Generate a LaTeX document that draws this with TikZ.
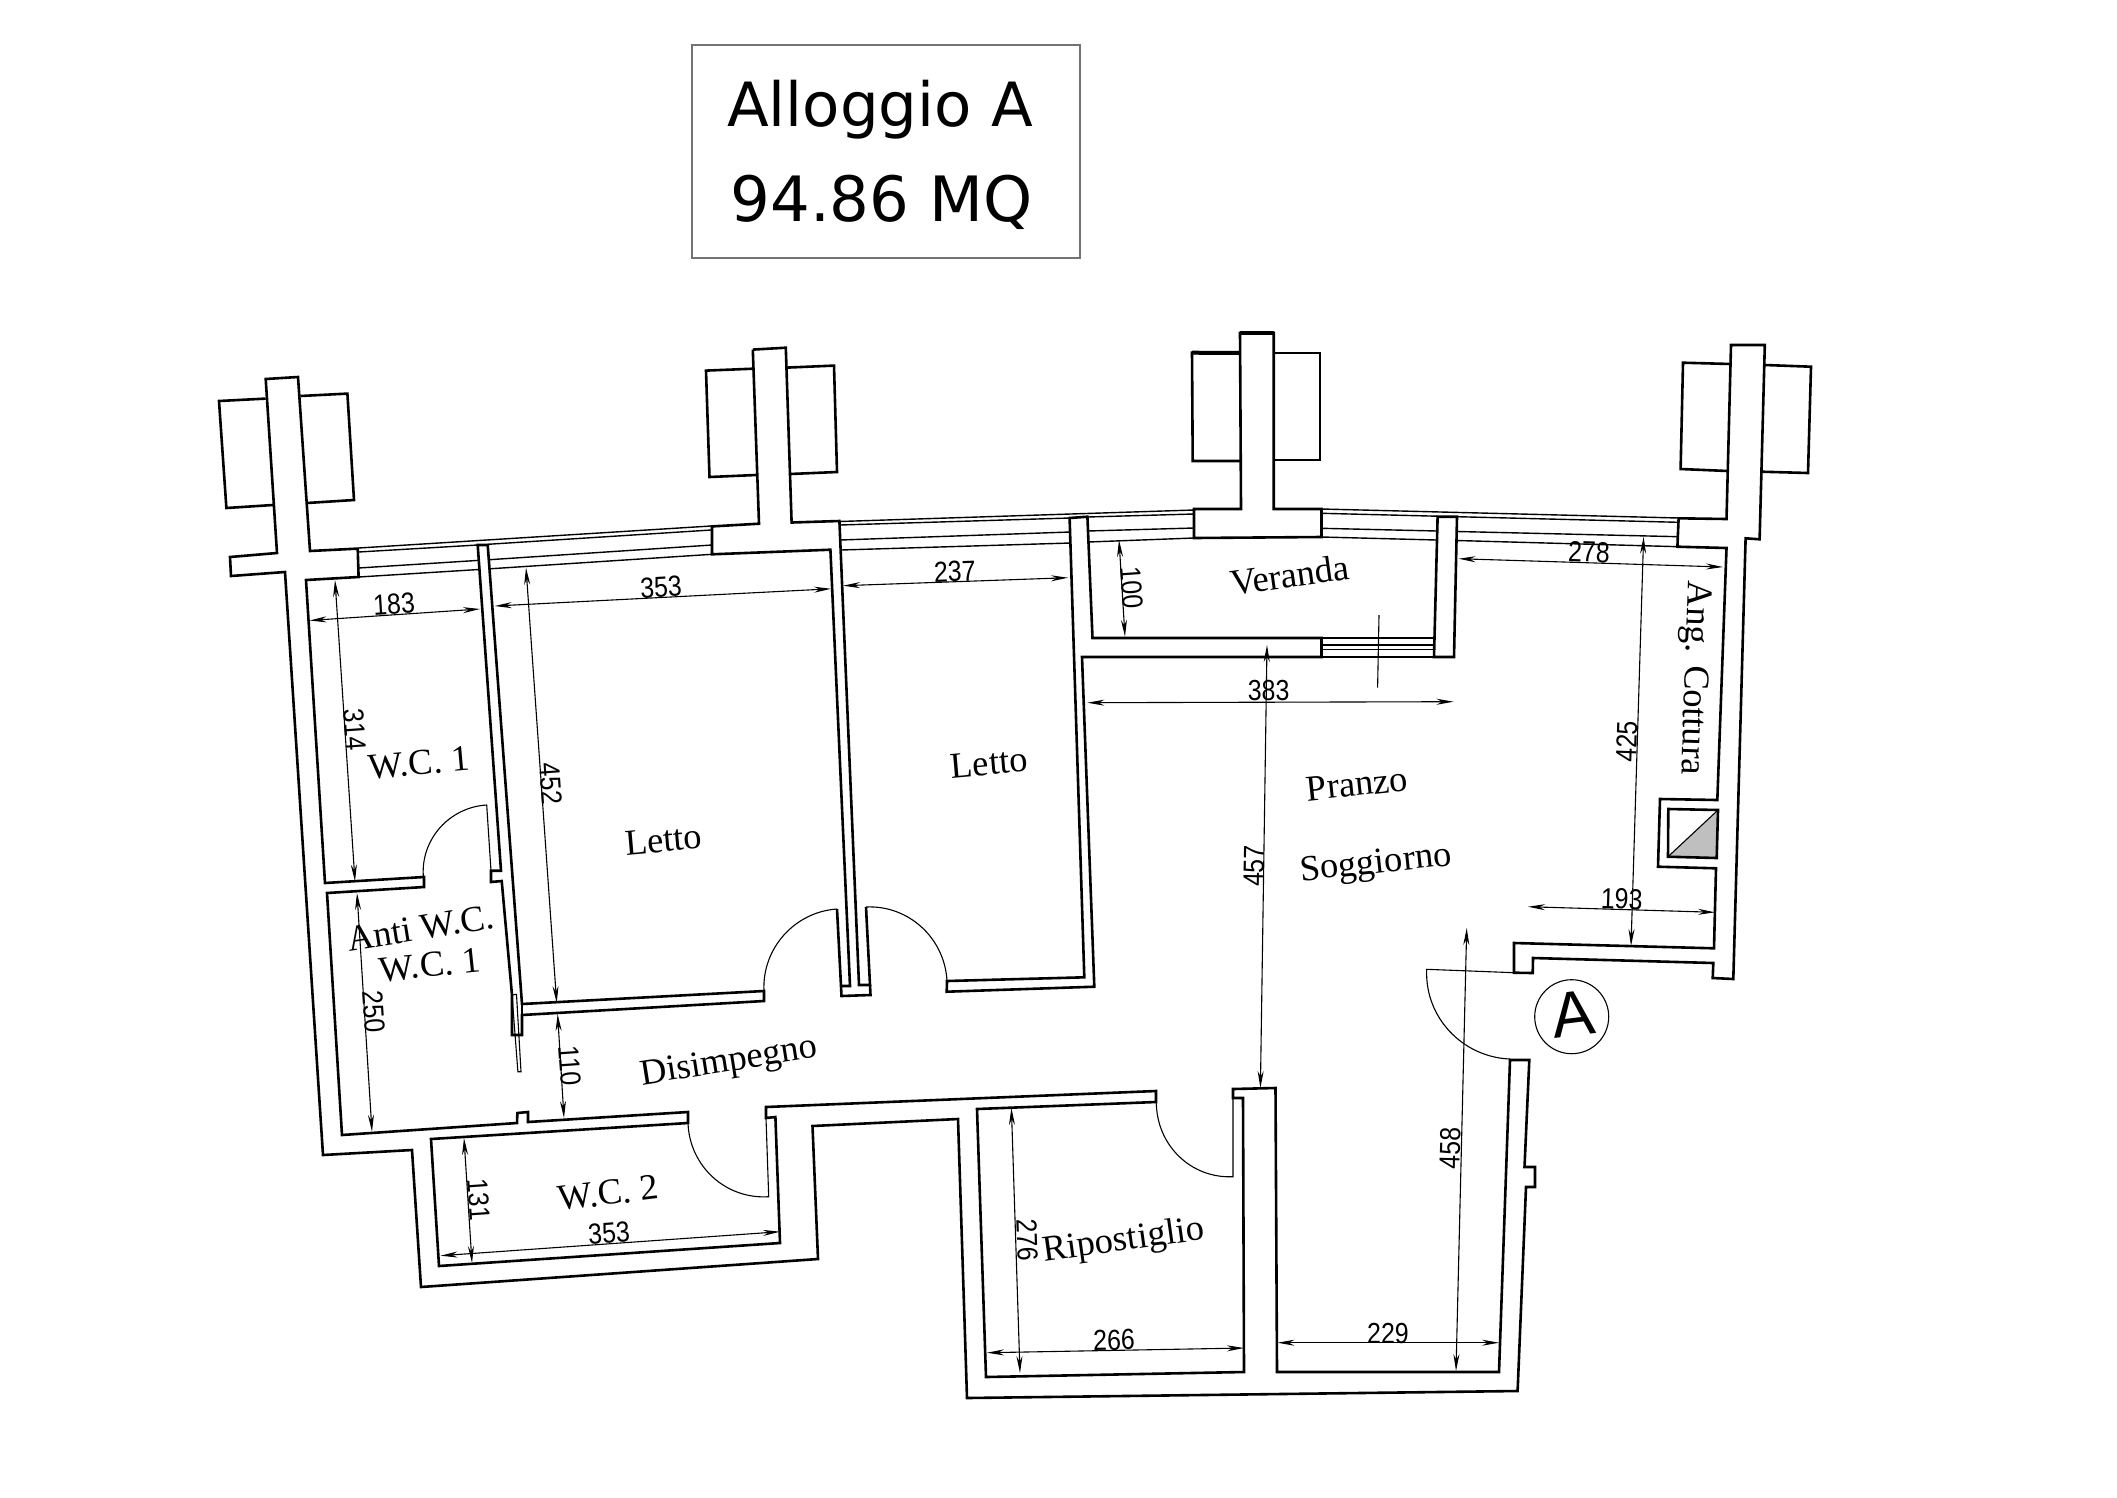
\documentclass[tikz,border=0pt]{standalone}
\usepackage{fontspec}
\setmainfont{Liberation Serif}
\newfontfamily\dimf[FakeStretch=0.86]{Liberation Sans}
\newfontfamily\bigf{Liberation Sans}
\newfontfamily\titlef{DejaVu Sans}
\usetikzlibrary{arrows.meta}
\tikzset{
  wall/.style={line width=2.6pt,line join=miter,line cap=butt},
  thinl/.style={line width=1.4pt},
  hair/.style={line width=1.1pt},
  dimline/.style={line width=1.1pt,{Stealth[length=17pt,width=6pt]}-{Stealth[length=17pt,width=6pt]}},
  dimlab/.style={inner sep=0pt,font=\dimf\fontsize{29}{32}\selectfont},
  room/.style={inner sep=0pt,font=\fontsize{36.5}{40}\selectfont},
  titlelab/.style={inner sep=0pt,anchor=base,font=\titlef\fontsize{61}{70}\selectfont}
}
\begin{document}
\begin{tikzpicture}[x=1pt,y=-1pt]
\useasboundingbox (0,0) rectangle (2117,1497);
\fill[white] (0,0) rectangle (2117,1497);
% title
\draw[line width=1.2pt,draw=black!55] (692,45) rectangle (1080,258);
\node[titlelab] (t1) at (880,126) {Alloggio A};
\node[titlelab,font=\titlef\fontsize{62.5}{70}\selectfont] (t2) at (881.5,221) {94.86 MQ};
% main outer wall
\draw[wall] (265.7,379)--(298,377)--(310,551)--(357.7,548.6)--(358.6,577)--(306,580)--(325,883)--(424,877)--(424,887)--(327,893)--(342,1135)--(517,1123)--(517.4,1113)--(528,1112)--(528,1122)--(688,1112)--(688,1123)--(431,1139)--(439,1266)--(780,1243)--(775.4,1117)--(766,1118)--(766,1107)--(1156,1091)--(1156,1102)--(977,1109)--(986,1377)--(1244,1372)--(1243,1098)--(1233,1098)--(1233,1089)--(1275.5,1088)--(1277,1372)--(1499,1372)--(1510,1060)--(1529.3,1060)--(1524.5,1167)--(1535,1167)--(1535,1187)--(1526,1187)--(1517.6,1391)--(967,1398)--(958,1119)--(812.5,1126)--(818,1259)--(421,1287)--(412,1150)--(323,1155)--(285,572)--(231,576)--(230,557)--(277,553)--cycle;
% left tower flanks
\draw[wall] (265.7,398.6)--(219,401)--(226.4,508)--(273,505);
\draw[wall] (300.5,396)--(347.4,393.6)--(354,500)--(307,503);
% partition WC1 / Letto
\draw[wall] (487.7,545)--(477.7,545)--(501,870.7)--(491,870.7)--(491,882)--(501.7,881)--(512,995)--(512,1035)--(522,1035)--(522,1015)--(764,1001)--(764,991)--(522,1004)--cycle;
\draw[wall] (522,1004)--(522,1015);
\draw[hair] (512,995)--(516.5,994.3)--(521,1071.7)--(517.9,1071.7)--cycle;
% second tower
\draw[wall] (752.8,349.6)--(785.8,347.7)--(791.6,522.5)--(839.4,521)--(859,985)--(870,985)--(866,907);
\draw[wall] (870,985)--(870.5,995)--(841.5,996)--(841,986)--(837,909);
\draw[wall] (841,986)--(850,986)--(830.4,549.7)--(712,554.3)--(712,526.4)--(759,523.7)--(752.8,349.6);
\draw[wall] (752.8,368.7)--(706,370.6)--(709.5,477)--(756,475);
\draw[wall] (787,367.6)--(834,365.6)--(837,472)--(790,474);
% Letto 2 and veranda
\draw[wall] (947,981)--(1084.3,977.3)--(1069.6,518)--(1087.4,516.7)--(1092.5,638)--(1321.5,638)--(1321.5,657)--(1082,657)--(1094.3,986.7)--(946.7,991.7)--cycle;
% centre tower
\draw[wall] (1240,333)--(1273.7,333)--(1273.7,509)--(1321.5,509)--(1321.5,537)--(1194,538)--(1194,509)--(1241,509)--cycle;
\draw[line width=4pt] (1240,333)--(1273.7,333);
\draw[wall] (1240,353)--(1192,352.7)--(1192.7,461)--(1240,461);
\draw[line width=4pt] (1240,353)--(1192,352.7);
\draw[wall] (1273.7,353)--(1320,353)--(1320,460)--(1273.7,460);
% veranda pillar
\draw[wall] (1437.6,516.7)--(1457,516.7)--(1454,657)--(1434,657)--cycle;
% right tower
\draw[wall] (1731,345)--(1764.8,345)--(1759.6,539.3)--(1745.6,538.3)--(1733.3,979)--(1712.7,978)--(1713.3,963)--(1533,958)--(1532.7,973)--(1514,972.7)--(1514,943)--(1714,948.3)--(1716,868.3)--(1658,866.7)--(1660,799)--(1717.3,800)--(1726.5,548)--(1677.4,546.7)--(1678.6,518.3)--(1726.5,519)--cycle;
\draw[wall] (1731,364)--(1683,362.7)--(1680.6,469)--(1727.8,471);
\draw[wall] (1764.8,365)--(1811,366.7)--(1808,473)--(1761.6,471.7);
% flue
\fill[black!25] (1718,810)--(1716.7,858)--(1668,856.7)--cycle;
\draw[wall] (1668.3,809)--(1718,810)--(1716.7,858)--(1668,856.7)--cycle;
\draw[hair] (1718,810)--(1668,856.7);
% windows, bay 1
\draw[thinl] (358.6,548)--(711,526);
\draw[thinl] (358.6,552)--(477.7,545) (487.7,544.3)--(711,530);
\draw[thinl] (358.6,568)--(479.6,560.3) (489.4,559.7)--(712,545);
\draw[thinl] (358.6,577)--(480.3,569.4) (489.7,568.8)--(712,554.3);
% windows, bay 2
\draw[thinl] (839.4,521.5)--(1194,510);
\draw[thinl] (840,525)--(1070,518) (1087.4,517)--(1194,514);
\draw[thinl] (840.5,540)--(1070,532) (1088,531)--(1194,528);
\draw[thinl] (841,550)--(1070.5,543) (1088.5,542)--(1194,538);
% windows, bay 3
\draw[thinl] (1321.5,509)--(1678.6,518);
\draw[thinl] (1321.5,513.3)--(1437.5,516.2) (1457,516.7)--(1678.6,522.3);
\draw[thinl] (1321.5,528.3)--(1437,531) (1457,531.5)--(1678.6,536.7);
\draw[thinl] (1321.5,537)--(1436.5,540) (1456.5,540.5)--(1678.6,546.7);
% lower veranda opening
\draw[thinl] (1321.5,638)--(1435,638) (1321.5,645)--(1435,645) (1321.5,649.3)--(1435,649.3) (1321.5,657)--(1434,657);
\draw[hair] (1379,615)--(1377.6,687.7);
% doors
\draw[hair] (491,871)--(486.7,805) .. controls (449.5,807.2) and (420.9,839.1) .. (423.3,876);
\draw[hair] (764,991) .. controls (761.8,948.6) and (794.6,911.8) .. (837,909);
\draw[hair] (947,981) .. controls (944.8,938.1) and (908.4,904.8) .. (866,907);
\draw[hair] (688,1123) .. controls (689.5,1166.3) and (725.8,1199.5) .. (768.7,1196.7)--(766,1118);
\draw[hair] (1156.3,1101.7) .. controls (1156.3,1145) and (1190.8,1178.7) .. (1233,1176.7)--(1233,1098);
\draw[hair] (1514,972.7)--(1426.7,969.3) .. controls (1424.5,1016.8) and (1462,1057.1) .. (1510,1059);
% entrance marker
\node[circle,draw,line width=1.1pt,minimum size=74pt,inner sep=0pt] (entrycircle) at (1571.7,1016.7) {};
\node[inner sep=0pt,rotate=7,font=\bigf\fontsize{64}{70}\selectfont] (entry) at (1573,1014) {A};
% dimensions
\draw[dimline] (309.5,620.5)--(480,609);
\node[dimlab,rotate=3.5] (d183) at (394,604) {183};
\draw[dimline] (494.7,606)--(831,588.8);
\node[dimlab,rotate=3] (d353a) at (661,587) {353};
\draw[dimline] (335,580)--(355,881.5);
\node[dimlab,rotate=-86] (d314) at (355.4,729.6) {314};
\draw[dimline] (526,567.7)--(556.7,1003);
\node[dimlab,rotate=-86] (d452) at (551.4,784) {452};
\draw[dimline] (357,893)--(372,1131.7);
\node[dimlab,rotate=-86] (d250) at (373.7,1011.7) {250};
\draw[dimline] (557.6,1014)--(564,1118);
\node[dimlab,rotate=-86] (d110) at (570,1065.7) {110};
\draw[dimline] (464,1138)--(472,1263);
\node[dimlab,rotate=-86] (d131) at (478.6,1200) {131};
\draw[dimline] (440.6,1255.7)--(780,1231.7);
\node[dimlab,rotate=4] (d353b) at (609,1232.7) {353};
\draw[dimline] (843,585.7)--(1068,577.7);
\node[dimlab,rotate=2] (d237) at (954.8,571.7) {237};
\draw[dimline] (1119,540)--(1125,636.7);
\node[dimlab,rotate=-86] (d100) at (1132,587.7) {100};
\draw[dimline] (1458.6,558.7)--(1723,567);
\node[dimlab,rotate=-2] (d278) at (1589,552) {278};
\draw[dimline] (1643.6,536.7)--(1631,946);
\node[dimlab,rotate=88] (d425) at (1626.7,741.7) {425};
\draw[dimline] (1087.4,702.7)--(1453.5,701.7);
\node[dimlab] (d383) at (1268.6,691) {383};
\draw[dimline] (1528,906.7)--(1715,912.3);
\node[dimlab,rotate=-2] (d193) at (1621.7,899) {193};
\draw[dimline] (1267,645)--(1260.4,1088);
\node[dimlab,rotate=89] (d457) at (1254,866) {457};
\draw[dimline] (1466.7,928)--(1456,1371);
\node[dimlab,rotate=88.5] (d458) at (1450,1148) {458};
\draw[dimline] (1011.4,1108)--(1020,1373);
\node[dimlab,rotate=-88] (d276) at (1027,1240) {276};
\draw[dimline] (987,1352.7)--(1244,1348);
\node[dimlab,rotate=1] (d266) at (1114,1340) {266};
\draw[dimline] (1277.5,1342.7)--(1499,1342.7);
\node[dimlab] (d229) at (1388,1333) {229};
% room labels
\node[room,rotate=5] (r1) at (419,763) {W.C. 1};
\node[room,rotate=5] (r2) at (663.5,840) {Letto};
\node[room,rotate=5] (r3) at (989,763) {Letto};
\node[room,rotate=9] (r4) at (420.5,928) {Anti W.C.};
\node[room,rotate=6] (r5) at (430,965) {W.C. 1};
\node[room,rotate=9] (r6) at (729,1063) {Disimpegno};
\node[room,rotate=7] (r7) at (608,1193) {W.C. 2};
\node[room,rotate=8] (r8) at (1289.6,575) {Veranda};
\node[room,rotate=8] (r9) at (1123.7,1241.7) {Ripostiglio};
\node[room,rotate=6] (r10) at (1357,784) {Pranzo};
\node[room,rotate=6] (r11) at (1376,865) {Soggiorno};
\node[room,rotate=-92] (r12) at (1693,678) {Ang. Cottura};
\end{tikzpicture}
\end{document}
